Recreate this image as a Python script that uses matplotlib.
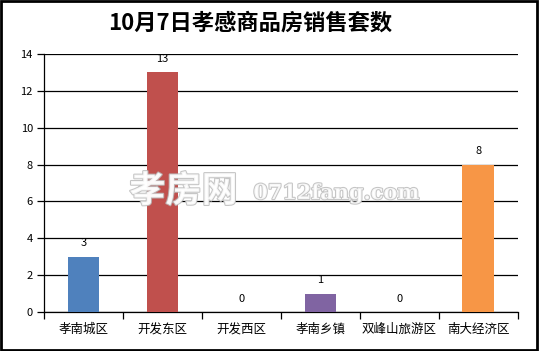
import matplotlib
matplotlib.use("Agg")
import matplotlib.pyplot as plt
import matplotlib.patheffects as pe
from matplotlib.patches import Rectangle
import numpy as np

plt.rcParams['font.family'] = ['Noto Sans CJK SC', 'DejaVu Sans']

# data
districts = ["孝南城区", "开发东区", "开发西区", "孝南乡镇", "双峰山旅游区", "南大经济区"]
sales = [3, 13, 0, 1, 0, 8]
colors = ["#4F81BD", "#C0504D", "#9BBB59", "#8064A2", "#4BACC6", "#F79646"]

fig = plt.figure(figsize=(5.39, 3.51), dpi=100)
ax = fig.add_axes([0.0816, 0.111, 0.879, 0.735])

x = np.arange(len(districts))
ax.bar(x, sales, width=0.4, color=colors, zorder=3)

for xi, v in zip(x, sales):
    ax.text(xi, v + 0.45, str(v), ha="center", va="bottom", fontsize=8, color="black", zorder=4)

ax.set_xlim(-0.5, len(districts) - 0.5)
ax.set_ylim(0, 14)
ax.set_yticks(range(0, 15, 2))
ax.yaxis.grid(True, color="black", linewidth=0.9, zorder=0)
ax.set_axisbelow(True)

ax.set_xticks(x)
ax.set_xticklabels(districts, fontsize=9)
ax.set_xticks(np.arange(-0.5, len(districts)), minor=True)
ax.tick_params(axis="x", which="major", length=0, pad=8)
ax.tick_params(axis="x", which="minor", length=5, width=0.9, direction="out")
ax.tick_params(axis="y", length=5, width=0.9, labelsize=8, pad=3)

for s in ["top", "right"]:
    ax.spines[s].set_visible(False)
ax.spines["left"].set_linewidth(0.9)
ax.spines["bottom"].set_linewidth(0.9)

fig.text(0.464, 0.935, "10月7日孝感商品房销售套数", ha="center", va="center",
         fontsize=16, fontweight="bold", color="black")

# watermark
wm = fig.text(0.24, 0.455, "孝房网", fontsize=26, fontweight="bold", color="white", alpha=0.85,
              ha="left", va="center")
wm.set_path_effects([pe.withStroke(linewidth=1.5, foreground="#bbbbbb")])
wm2 = fig.text(0.47, 0.45, "0712fang.com", fontsize=15, fontweight="bold", color="white", alpha=0.85,
               family="DejaVu Serif", ha="left", va="center")
wm2.set_path_effects([pe.withStroke(linewidth=1.5, foreground="#bbbbbb")])

fig.patches.append(Rectangle((0.002, 0.003), 0.995, 0.993, transform=fig.transFigure,
                             fill=False, edgecolor="black", linewidth=2))

fig.savefig("out.png", dpi=100)
